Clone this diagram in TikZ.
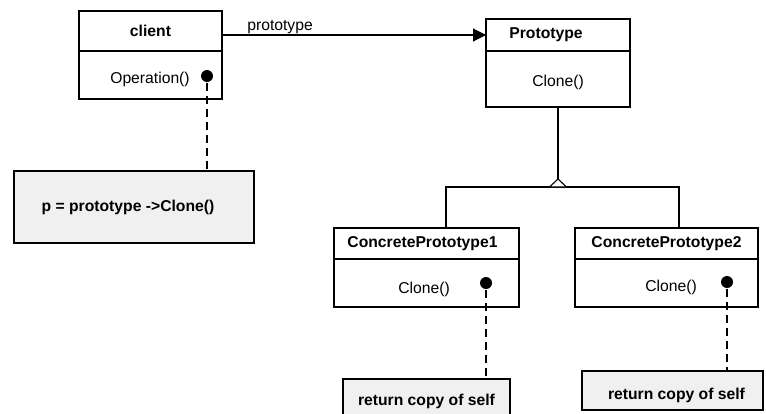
\documentclass[tikz,border=0pt]{standalone}
\usepackage{fontspec}
\setmainfont{Liberation Sans}
\usetikzlibrary{arrows.meta,positioning}

\begin{document}
\begin{tikzpicture}[x=1pt,y=-1pt,line width=1.1pt,font=\fontsize{15.7}{18}\selectfont]
        \tikzstyle{box}=[draw, rectangle, inner sep=0pt, outer sep=0pt]
        \tikzstyle{note}=[box, fill=black!6, font=\fontsize{15.7}{18}\selectfont\bfseries]
        \tikzstyle{dot}=[circle, fill=black, inner sep=0pt, minimum size=12pt]
        \tikzstyle{txt}=[inner sep=0pt]
        \tikzstyle{link}=[dashed, dash pattern=on 8pt off 5pt]
        \useasboundingbox (0,0) rectangle (766,413);

        % classes
        \node[box, minimum width=143, minimum height=40] (clienthead) at (150.5,31) {\textbf{client}};
        \node[box, minimum width=143, minimum height=48, below=0pt of clienthead] (clientbody) {};
        \node[box, minimum width=144, minimum height=32] (protohead) at (558,35) {\textbf{Prototype}\hspace*{24pt}};
        \node[box, minimum width=144, minimum height=56, below=0pt of protohead] (protobody) {};
        \node[box, minimum width=185, minimum height=31] (cponehead) at (426.5,243.5) {\textbf{ConcretePrototype1}\hspace*{8pt}};
        \node[box, minimum width=185, minimum height=48, below=0pt of cponehead] (cponebody) {};
        \node[box, minimum width=183, minimum height=31] (cptwohead) at (666.5,243.5) {\textbf{ConcretePrototype2}};
        \node[box, minimum width=183, minimum height=48, below=0pt of cptwohead] (cptwobody) {};

        % operations
        \node[txt]  (clientop)  at (150,79)  {Operation()};
        \node[dot]  (clientdot) at (207,76)  {};
        \node[txt]  (protoop)   at (558,82)  {Clone()};
        \node[txt]  (cponeop)   at (424,289) {Clone()};
        \node[dot]  (cponedot)  at (486,283) {};
        \node[txt]  (cptwoop)   at (671,287) {Clone()};
        \node[dot]  (cptwodot)  at (727,282) {};

        % notes
        \node[note, minimum width=240, minimum height=72] (clientnote) at (134,207)   {p = prototype ->Clone()\hspace*{12pt}};
        \node[note, minimum width=167, minimum height=44] (cponenote)  at (426.5,401) {return copy of self};
        \node[note, minimum width=181, minimum height=39, text height=21pt, text depth=3pt] (cptwonote) at (672.5,390.5) {return copy of self\hspace*{-8pt}};

        \draw[link] (clientdot) -- (clientnote.north -| clientdot);
        \draw[link] (cponedot)  -- (cponenote.north -| cponedot);
        \draw[link] (cptwodot)  -- (cptwonote.north -| cptwodot);

        % association
        \draw[-{Triangle[length=13pt,width=13pt]}] (clienthead.east |- protohead) --
              node[above, pos=0.22, inner sep=1pt] {prototype} (protohead.west);

        % inheritance
        \coordinate (hub)   at (558,187);
        \coordinate (left)  at (446,187);
        \coordinate (right) at (679,187);
        \draw (protobody.south) -- (hub);
        \draw (cponehead.north -| left) -- (left) -- (right) -- (cptwohead.north -| right);
        \draw[fill=white] ([xshift=-8.5pt]hub) -- ([yshift=8pt]hub) -- ([xshift=8.5pt]hub) -- cycle;
\end{tikzpicture}
\end{document}
